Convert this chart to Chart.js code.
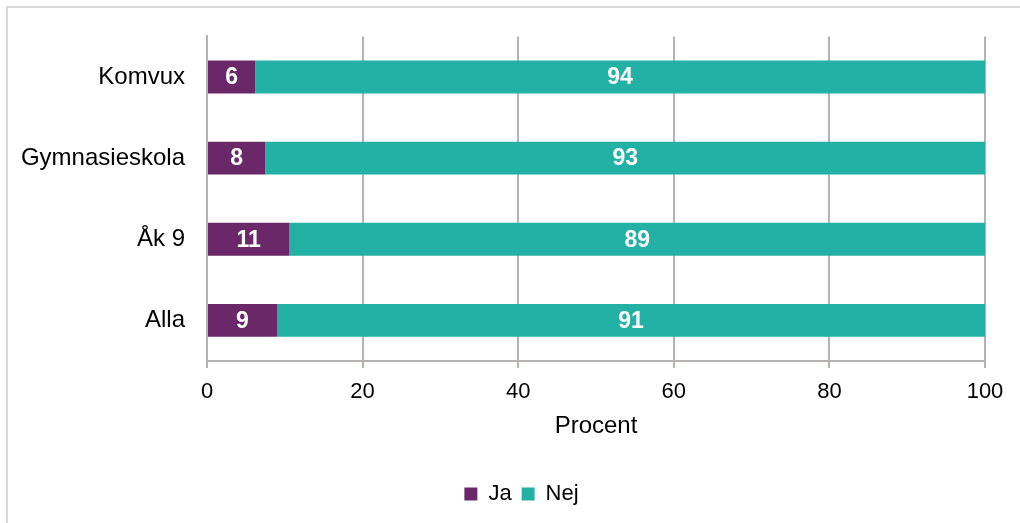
<!DOCTYPE html>
<html>
<head>
<meta charset="utf-8">
<script src="https://cdn.jsdelivr.net/npm/chart.js@4/dist/chart.umd.min.js"></script>
<style>
html,body{margin:0;padding:0;background:#fff;}
#wrap{position:relative;width:1020px;height:523px;overflow:hidden;}
#frame{position:absolute;left:6px;top:6px;width:1100px;height:600px;border-left:2px solid #d9d9d9;border-top:2px solid #d9d9d9;pointer-events:none;}
canvas{position:absolute;left:0;top:0;}
</style>
</head>
<body>
<div id="wrap">
<canvas id="c" width="1020" height="523"></canvas>
<div id="frame"></div>
</div>
<script>
const categories = ["Komvux", "Gymnasieskola", "Åk 9", "Alla"];
const jaValues = [6.2, 7.5, 10.6, 9.0];
const nejValues = [93.8, 92.5, 89.4, 91.0];
const seriesNames = ["Ja", "Nej"];
const xTicks = [0, 20, 40, 60, 80, 100];
const axisTitle = "Procent";

const FONT = "'Liberation Sans', Arial, sans-serif";
const gridColor = "#b6b2b2";

const labelPlugin = {
  id: 'barLabels',
  afterDatasetsDraw(chart) {
    const ctx = chart.ctx;
    ctx.save();
    ctx.fillStyle = '#ffffff';
    ctx.font = "bold 23px " + FONT;
    ctx.textAlign = 'center';
    ctx.textBaseline = 'middle';
    chart.data.datasets.forEach((ds, di) => {
      const meta = chart.getDatasetMeta(di);
      meta.data.forEach((bar, i) => {
        const v = ds.data[i];
        const cx = (bar.x + bar.base) / 2;
        ctx.fillText(String(Math.round(v)), cx, bar.y + 1);
      });
    });
    ctx.restore();
  }
};

const legendShift = {
  id: 'legendShift',
  afterLayout(chart) {
    if (chart.legend) {
      chart.legend.left += 29;
      chart.legend.right += 29;
    }
  }
};

new Chart(document.getElementById('c'), {
  type: 'bar',
  data: {
    labels: categories,
    datasets: [
      { label: seriesNames[0], data: jaValues, backgroundColor: '#6b2869', borderWidth: 0 },
      { label: seriesNames[1], data: nejValues, backgroundColor: '#23b0a5', borderWidth: 0 }
    ]
  },
  options: {
    indexAxis: 'y',
    responsive: false,
    animation: false,
    devicePixelRatio: 1,
    datasets: { bar: { categoryPercentage: 1, barPercentage: 0.405 } },
    layout: { padding: { top: 33, right: 35, left: 0, bottom: 8 } },
    plugins: {
      legend: {
        position: 'bottom',
        labels: {
          font: { family: FONT, size: 22 },
          color: '#000',
          boxWidth: 13,
          boxHeight: 13,
          padding: 10,
          useBorderRadius: false
        }
      },
      tooltip: { enabled: false }
    },
    scales: {
      x: {
        stacked: true,
        min: 0, max: 100,
        afterBuildTicks(axis) { axis.ticks = xTicks.map(v => ({ value: v })); },
        ticks: { font: { family: FONT, size: 22 }, color: '#000', padding: 11 },
        grid: { color: gridColor, lineWidth: 2, tickLength: 7, drawTicks: true },
        border: { color: gridColor, width: 2 },
        title: { display: true, text: axisTitle, font: { family: FONT, size: 24 }, color: '#000', padding: { top: 2, bottom: 32 } },
        afterFit(axis) { axis.height = 112; }
      },
      y: {
        stacked: true,
        ticks: { font: { family: FONT, size: 24 }, color: '#000', padding: 22 },
        grid: { display: false, drawTicks: false },
        border: { color: gridColor, width: 2 },
        afterFit(axis) { axis.width = 207; }
      }
    }
  },
  plugins: [labelPlugin, legendShift]
});
</script>
</body>
</html>
